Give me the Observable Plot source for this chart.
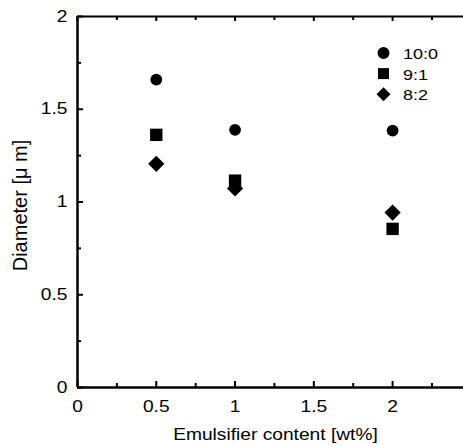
<!DOCTYPE html>
<html><head><meta charset="utf-8">
<script src="https://cdn.jsdelivr.net/npm/d3@7"></script>
<script src="https://cdn.jsdelivr.net/npm/@observablehq/plot@0.6"></script>
<style>
html,body{margin:0;padding:0;background:#fff;overflow:hidden}
#c{position:relative;width:463px;height:446px;overflow:hidden;background:#fff}
#c svg{display:block;max-width:none !important}
#legend{position:absolute;left:0;top:0;pointer-events:none}
</style>
</head><body><div id="c"></div>
<script>
// ---- data ----
const xValues = [0.5, 1, 2];                 // emulsifier content [wt%]
const series100 = [1.66, 1.389, 1.385];      // 10:0
const series91  = [1.362, 1.115, 0.855];     // 9:1
const series82  = [1.206, 1.073, 0.943];     // 8:2
const seriesNames = ["10:0", "9:1", "8:2"];
const seriesSymbols = ["circle", "square", "diamond2"];
const xTickLabels = [0, 0.5, 1, 1.5, 2];
const xMajorTicks = [0, 0.5, 1, 1.5, 2];
const xMinorTicks = [0.25, 0.75, 1.25, 1.75, 2.25];
const yTickLabels = [0, 0.5, 1, 1.5, 2];
const yMajorTicks = [0, 0.5, 1, 1.5, 2];
const yMinorTicks = [0.25, 0.75, 1.25, 1.75];
const xDomain = [0, 2.45];   // visible part of the 0–2.5 axis
const yDomain = [0, 2];
const xTitle = "Emulsifier content [wt%]";
const yTitle = "Diameter [\u03bc m]";

// ---- layout ----
const width = 463, height = 446;
const mL = 77, mR = 0, mT = 16, mB = 59;
const plotW = width - mL - mR, plotH = height - mT - mB;
const STRETCH = 1.2;
const font = "'Liberation Sans', Arial, sans-serif";

const allSeries = [series100, series91, series82];
const radii = [5.9, 7, 7.3];
const rows = [];
allSeries.forEach((vals, s) => xValues.forEach((x, i) => rows.push({x, y: vals[i], s: seriesNames[s]})));

const dotMarks = seriesNames.map((name, s) =>
  Plot.dot(rows.filter(d => d.s === name), {x: "x", y: "y", symbol: () => seriesSymbols[s], r: radii[s], fill: "#000", stroke: "none"})
);

const chart = Plot.plot({
  width, height,
  marginLeft: mL, marginRight: mR, marginTop: mT, marginBottom: mB,
  style: {fontFamily: font, fontSize: "16px", color: "#000", background: "#fff", maxWidth: "none"},
  x: {domain: xDomain},
  y: {domain: yDomain},
  symbol: {type: "identity"},
  marks: [
    Plot.axisX(xTickLabels, {tickSize: 0, tickPadding: 13, label: null, fontSize: 16, tickFormat: d => String(d)}),
    Plot.axisY(yTickLabels, {tickSize: 0, tickPadding: 10, label: null, fontSize: 16, tickFormat: d => String(d)}),
    // inward ticks: bottom
    Plot.tickX(xMajorTicks, {x: d => d, insetTop: plotH - 6, stroke: "#000", strokeWidth: 2}),
    Plot.tickX(xMinorTicks, {x: d => d, insetTop: plotH - 4, stroke: "#000", strokeWidth: 2}),
    // inward ticks: top
    Plot.tickX(xMajorTicks, {x: d => d, insetBottom: plotH - 5, stroke: "#000", strokeWidth: 2}),
    Plot.tickX(xMinorTicks, {x: d => d, insetBottom: plotH - 4, stroke: "#000", strokeWidth: 2}),
    // inward ticks: left
    Plot.tickY(yMajorTicks, {y: d => d, insetRight: plotW - 6, stroke: "#000", strokeWidth: 2}),
    Plot.tickY(yMinorTicks, {y: d => d, insetRight: plotW - 4, stroke: "#000", strokeWidth: 2}),
    // axis lines: left, bottom, top (right side lies outside the picture)
    Plot.ruleX([xDomain[0]], {stroke: "#000", strokeWidth: 2.5}),
    Plot.ruleY([yDomain[0]], {stroke: "#000", strokeWidth: 2.5}),
    Plot.ruleY([yDomain[1]], {stroke: "#000", strokeWidth: 2.2}),
    ...dotMarks,
    Plot.text([xTitle], {frameAnchor: "bottom", textAnchor: "middle", lineAnchor: "bottom", dy: 52, dx: 5, fontSize: 16, fill: "#000"}),
    Plot.text([yTitle], {frameAnchor: "left", textAnchor: "middle", rotate: -90, lineAnchor: "bottom", dx: -51, dy: 3.5, fontSize: 20, fill: "#000"})
  ]
});

const container = document.getElementById("c");
container.appendChild(chart);

// ---- legend (overlay) ----
const legend = d3.select(container).append("svg")
  .attr("id", "legend").attr("width", 463).attr("height", 446);
const legendSymbols = [d3.symbolCircle, d3.symbolSquare, d3.symbolDiamond2];
const legendSizes = [113, 121, 125];
seriesNames.forEach((name, i) => {
  const cy = 53 + 20.6 * i;
  legend.append("path")
    .attr("d", d3.symbol(legendSymbols[i], legendSizes[i])())
    .attr("transform", `translate(383.5,${cy})`)
    .attr("fill", "#000");
  legend.append("text")
    .attr("transform", `translate(403,${cy + 1})`)
    .attr("dy", "0.35em")
    .attr("font-family", font).attr("font-size", 15).attr("fill", "#000")
    .text(name);
});

// ---- horizontal stretch of horizontal text (matches reference proportions) ----
container.querySelectorAll("svg text").forEach(t => {
  const own = t.getAttribute("transform") || "";
  const tr = own + (t.parentNode.getAttribute("transform") || "");
  if (tr.includes("rotate")) return;
  const x = parseFloat(t.getAttribute("x")) || 0;
  const y = parseFloat(t.getAttribute("y")) || 0;
  t.setAttribute("transform", `${own} translate(${x},${y}) scale(${STRETCH},1) translate(${-x},${-y})`);
});
</script>
</body></html>
